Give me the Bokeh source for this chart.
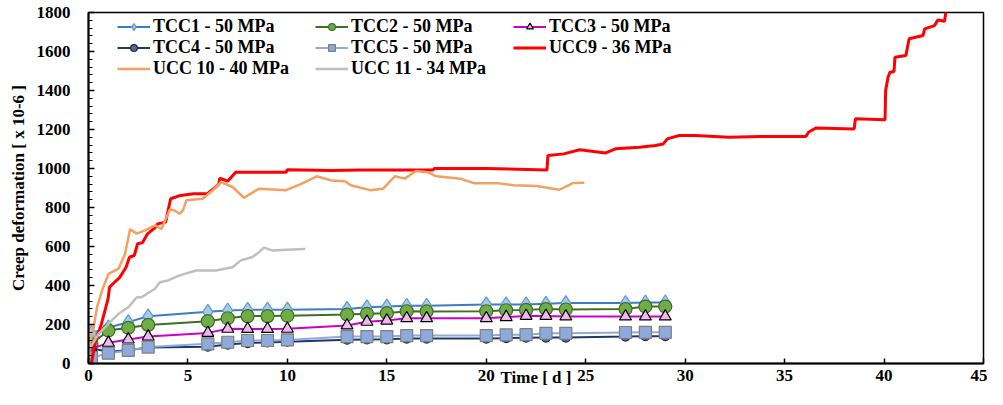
from bokeh.plotting import figure
from bokeh.models import Range1d, FixedTicker, Legend, LegendItem
from bokeh.embed import file_html
from bokeh.resources import INLINE

# ---- data ----
tcc_days = [0, 0.15, 1, 2, 3, 6, 7, 8, 9, 10, 13, 14, 15, 16, 17, 20, 21, 22, 23, 24, 27, 28, 29]
tcc1 = [110, 155, 185, 212, 242, 265, 272, 275, 276, 276, 280, 288, 292, 296, 296, 303, 303, 303, 306, 310, 310, 313, 313]
tcc2 = [70, 100, 169, 183, 198, 217, 232, 243, 243, 245, 251, 255, 258, 268, 267, 268, 273, 275, 279, 277, 279, 292, 292]
tcc3 = [40, 75, 106, 123, 138, 157, 178, 177, 177, 178, 195, 214, 220, 232, 232, 232, 238, 244, 244, 241, 241, 241, 241]
tcc4 = [0, 78, 60, 68, 82, 86, 97, 105, 108, 112, 122, 123, 124, 128, 128, 128, 130, 132, 133, 133, 138, 140, 140]
tcc5 = [0, 30, 53, 67, 84, 101, 109, 118, 118, 121, 138, 138, 138, 143, 143, 143, 147, 148, 155, 155, 159, 160, 160]

ucc9_t = [0.15, 0.31, 0.65, 0.98, 1.06, 1.23, 1.56, 1.89, 2.06, 2.3, 2.47, 2.72, 2.97, 3.38, 3.47, 3.88, 3.95,
          4.13, 4.63, 5.29, 5.96, 6.4, 6.55, 6.6, 7.0, 7.4, 9.94, 10.0, 12.26, 13.6, 17.3, 17.4, 20.0, 23.05,
          23.1, 23.9, 24.7, 26.0, 26.5, 27.7, 28.5, 28.9, 29.1, 29.7, 30.5, 32.2, 33.8, 36.07, 36.2, 36.57,
          38.5, 38.56, 40.05, 40.08, 40.2, 40.3, 40.5, 40.55, 41.1, 41.26, 41.96, 42.04, 42.54, 42.7, 43.04, 43.12]
ucc9_v = [0, 100, 203, 330, 391, 409, 440, 494, 545, 554, 614, 620, 665, 699, 716, 725, 760,
          845, 862, 870, 870, 905, 920, 950, 935, 981, 981, 994, 990, 992, 992, 1000, 1000, 992,
          1067, 1075, 1096, 1080, 1101, 1109, 1118, 1126, 1152, 1169, 1169, 1160, 1164, 1164, 1186, 1208,
          1203, 1255, 1250, 1400, 1468, 1494, 1497, 1571, 1580, 1665, 1682, 1716, 1733, 1762, 1755, 1810]

ucc10_t = [0, 0.1, 0.26, 0.43, 0.68, 1.01, 1.51, 1.84, 2.09, 2.43, 2.84, 3.34, 3.67, 4.09, 4.33, 4.58, 4.75,
           4.92, 5.74, 6.24, 6.66, 7.24, 7.82, 8.57, 9.9, 10.73, 11.48, 12.2, 12.89, 13.2, 14.2, 14.8, 15.4,
           15.9, 16.46, 17.04, 17.5, 18.7, 19.37, 20.53, 21.36, 22.52, 23.68, 24.35, 24.93]
ucc10_v = [33, 118, 186, 289, 374, 460, 486, 563, 688, 666, 683, 708, 690, 790, 785, 768, 785,
           837, 845, 888, 930, 905, 850, 896, 888, 922, 960, 939, 935, 914, 888, 896, 960,
           948, 987, 981, 960, 948, 925, 925, 914, 910, 891, 925, 927]

ucc11_t = [0.1, 0.51, 1.01, 1.51, 2.01, 2.43, 2.67, 3.34, 3.59, 4.0, 4.58, 5.42, 6.41, 7.24, 7.66, 8.24,
           8.57, 8.82, 9.23, 10.23, 10.9]
ucc11_v = [84, 152, 204, 255, 289, 340, 340, 383, 417, 426, 452, 477, 477, 494, 529, 546,
           571, 594, 580, 585, 587]

x_ticks = [0, 5, 10, 15, 20, 25, 30, 35, 40, 45]
y_ticks = [0, 200, 400, 600, 800, 1000, 1200, 1400, 1600, 1800]

FONT = "Liberation Serif"

p = figure(width=987, height=389, output_backend="svg", toolbar_location=None,
           x_range=Range1d(0, 45), y_range=Range1d(0, 1800),
           min_border_left=88, min_border_right=4, min_border_top=12, min_border_bottom=26)
p.xgrid.visible = False
p.ygrid.visible = False
p.outline_line_color = "black"
p.outline_line_width = 1.5

for ax in (p.xaxis[0], p.yaxis[0]):
    ax.axis_line_width = 2
    ax.axis_line_color = "black"
    ax.major_tick_out = 0
    ax.minor_tick_out = 0
    ax.major_tick_line_width = 1.5
    ax.minor_tick_line_width = 1.2
    ax.major_label_text_font = FONT
    ax.major_label_text_font_style = "bold"
    ax.major_label_text_font_size = "17px"
    ax.major_label_text_color = "black"
    ax.axis_label_text_font = FONT
    ax.axis_label_text_font_style = "bold"
    ax.axis_label_text_font_size = "17px"
    ax.axis_label_text_color = "black"

p.xaxis.ticker = FixedTicker(ticks=x_ticks)
p.xaxis.major_tick_in = 5
p.xaxis.minor_tick_in = 0
p.xaxis.major_label_standoff = 6
p.xaxis.axis_label = "Time [ d ]"
p.xaxis.axis_label_standoff = -16

yminor = [v for v in range(0, 1801, 40) if v % 200 != 0]
p.yaxis.ticker = FixedTicker(ticks=y_ticks, minor_ticks=yminor)
p.yaxis.major_tick_in = 6
p.yaxis.minor_tick_in = 4
p.yaxis.major_label_standoff = 18
p.yaxis.axis_label = "Creep deformation [ x 10-6 ]"
p.yaxis.axis_label_standoff = 6

items = []

def tcc(name, ys, line_color, marker, size, fill, edge, lw=2):
    r1 = p.line(tcc_days, ys, line_color=line_color, line_width=lw)
    r2 = p.scatter(tcc_days, ys, marker=marker, size=size, fill_color=fill, line_color=edge, line_width=1.2)
    items.append(LegendItem(label=name, renderers=[r1, r2]))

tcc("TCC1 - 50 MPa", tcc1, "#3B7DC4", "diamond", 15, "#A9C8EA", "#5B9BD5")
tcc("TCC2 - 50 MPa", tcc2, "#3F6F25", "circle", 13, "#70AD47", "#3F6F25")
tcc("TCC3 - 50 MPa", tcc3, "#CC00CC", "triangle", 12, "#F2B8EE", "black")
tcc("TCC4 - 50 MPa", tcc4, "#1F3864", "circle", 9, "#5C6396", "#1F2A44")
tcc("TCC5 - 50 MPa", tcc5, "#8FAADC", "square", 12, "#8EA9DB", "#7F7F7F")

r = p.line(ucc9_t, ucc9_v, line_color="#FF0000", line_width=3)
items.append(LegendItem(label="UCC9 - 36 MPa", renderers=[r]))
r = p.line(ucc10_t, ucc10_v, line_color="#F4A060", line_width=2.5)
items.append(LegendItem(label="UCC 10 - 40 MPa", renderers=[r]))
r = p.line(ucc11_t, ucc11_v, line_color="#BFBFBF", line_width=2.5)
items.append(LegendItem(label="UCC 11 - 34 MPa", renderers=[r]))

legend = Legend(items=items, orientation="horizontal", ncols=3,
                location=(29, 284),
                label_text_font=FONT, label_text_font_style="bold", label_text_font_size="18px",
                label_text_color="black", glyph_width=33, glyph_height=17, label_height=17,
                label_standoff=3, label_width=162, spacing=0, padding=0, margin=0,
                background_fill_alpha=0, border_line_alpha=0)
p.add_layout(legend, "center")

open("out.html", "w").write(file_html(p, INLINE))
